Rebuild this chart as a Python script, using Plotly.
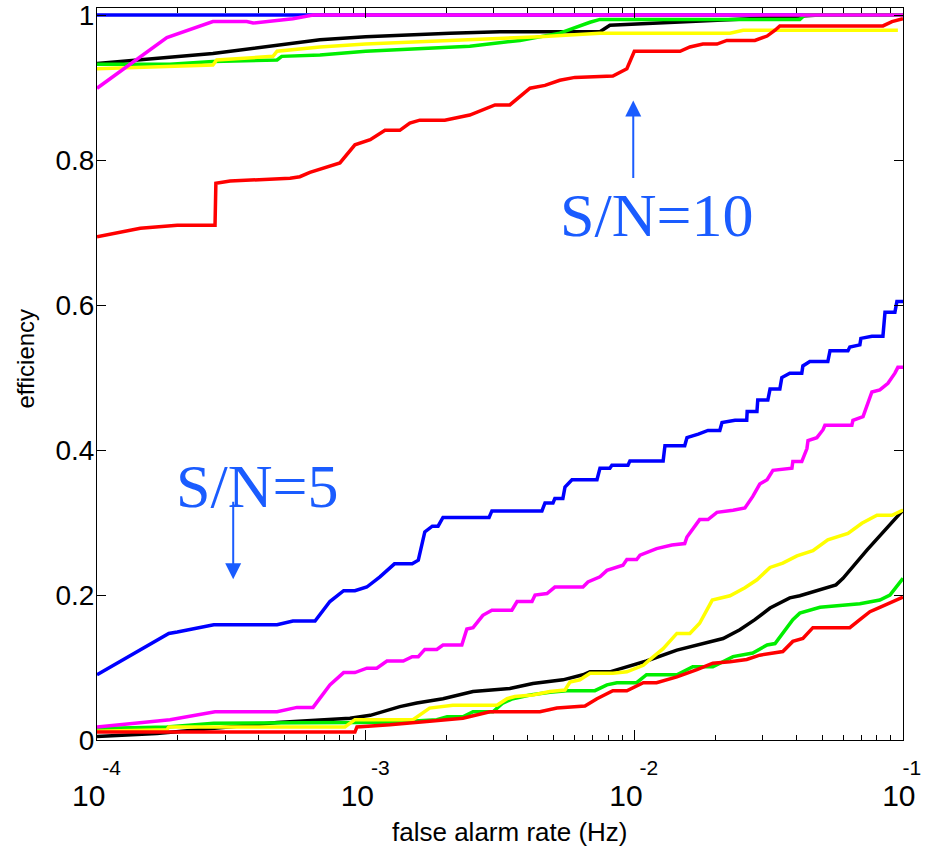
import plotly.graph_objects as go

# ---------------- data (false alarm rate in Hz, efficiency) ----------------
# S/N = 10 curves
blue10_f = [1.0e-4, 1.0e-1]
blue10_e = [1.0, 1.0]

black10_f = [1.0e-4, 2.70e-4, 6.76e-4, 1.00e-3, 2.06e-3, 3.16e-3, 7.45e-3, 8.11e-3, 2.69e-2, 4.91e-2, 1.0e-1]
black10_e = [0.933, 0.947, 0.966, 0.970, 0.975, 0.977, 0.977, 0.986, 0.995, 1.0, 1.0]

green10_f = [1.0e-4, 1.87e-4, 2.70e-4, 4.68e-4, 4.87e-4, 6.76e-4, 1.00e-3, 1.73e-3, 2.44e-3, 3.75e-3,
             5.28e-3, 6.84e-3, 7.45e-3, 4.13e-2, 4.31e-2, 1.0e-1]
green10_e = [0.932, 0.932, 0.936, 0.938, 0.943, 0.945, 0.950, 0.955, 0.957, 0.965,
             0.975, 0.990, 0.994, 0.994, 1.0, 1.0]

yellow10_f = [1.0e-4, 2.70e-4, 2.79e-4, 4.52e-4, 4.68e-4, 6.76e-4, 1.00e-3, 2.06e-3, 4.45e-3, 7.45e-3,
              2.27e-2, 2.54e-2, 9.57e-2]
yellow10_e = [0.926, 0.931, 0.938, 0.943, 0.950, 0.956, 0.960, 0.965, 0.970, 0.975,
              0.975, 0.979, 0.979]

red10_f = [1.0e-4, 1.45e-4, 1.99e-4, 2.75e-4, 2.77e-4, 3.13e-4, 5.23e-4, 5.69e-4, 6.20e-4, 8.02e-4,
           9.12e-4, 1.04e-3, 1.18e-3, 1.34e-3, 1.46e-3, 1.59e-3, 1.97e-3, 2.44e-3, 3.03e-3, 3.44e-3,
           4.09e-3, 4.65e-3, 5.28e-3, 6.01e-3, 8.32e-3, 9.38e-3, 1.00e-2, 1.48e-2, 1.61e-2, 1.80e-2,
           2.03e-2, 2.21e-2, 2.81e-2, 3.12e-2, 3.34e-2, 3.48e-2, 8.42e-2, 9.10e-2, 1.0e-1]
red10_e = [0.694, 0.706, 0.710, 0.710, 0.768, 0.771, 0.775, 0.777, 0.783, 0.796,
           0.821, 0.828, 0.841, 0.841, 0.851, 0.855, 0.855, 0.862, 0.876, 0.876,
           0.899, 0.903, 0.910, 0.914, 0.916, 0.926, 0.950, 0.950, 0.956, 0.960,
           0.960, 0.965, 0.965, 0.971, 0.979, 0.985, 0.985, 0.991, 0.995]

magenta10_f = [1.0e-4, 1.82e-4, 2.70e-4, 3.61e-4, 3.81e-4, 5.36e-4, 6.37e-4, 1.0e-1]
magenta10_e = [0.899, 0.969, 0.991, 0.991, 0.989, 0.995, 1.0, 1.0]

# S/N = 5 curves
blue5_f = [1.00e-4, 1.85e-4, 1.99e-4, 2.72e-4, 4.68e-4, 5.36e-4, 6.48e-4, 7.36e-4, 8.28e-4, 9.12e-4,
           1.01e-3, 1.13e-3, 1.28e-3, 1.49e-3, 1.57e-3, 1.66e-3, 1.77e-3, 1.86e-3, 1.94e-3, 2.88e-3,
           2.95e-3, 4.53e-3, 4.65e-3, 4.98e-3, 5.06e-3, 5.42e-3, 5.52e-3, 5.86e-3, 7.26e-3, 7.45e-3,
           8.11e-3, 8.25e-3, 9.47e-3, 9.63e-3, 1.28e-2, 1.30e-2, 1.54e-2, 1.57e-2, 1.73e-2, 1.88e-2,
           2.08e-2, 2.12e-2, 2.37e-2, 2.62e-2, 2.63e-2, 2.86e-2, 2.88e-2, 3.14e-2, 3.20e-2, 3.48e-2,
           3.54e-2, 3.79e-2, 4.20e-2, 4.24e-2, 4.50e-2, 5.25e-2, 5.35e-2, 6.24e-2, 6.34e-2, 6.91e-2,
           6.97e-2, 7.66e-2, 8.42e-2, 8.57e-2, 9.33e-2, 9.49e-2, 1.00e-1]
blue5_e = [0.090, 0.147, 0.149, 0.159, 0.159, 0.164, 0.164, 0.191, 0.206, 0.206,
           0.211, 0.225, 0.243, 0.243, 0.248, 0.287, 0.295, 0.295, 0.307, 0.307,
           0.316, 0.316, 0.327, 0.327, 0.333, 0.333, 0.349, 0.359, 0.359, 0.375,
           0.375, 0.379, 0.379, 0.385, 0.385, 0.406, 0.406, 0.417, 0.422, 0.427,
           0.427, 0.438, 0.441, 0.441, 0.453, 0.453, 0.469, 0.469, 0.484, 0.484,
           0.500, 0.506, 0.506, 0.516, 0.522, 0.522, 0.537, 0.537, 0.542, 0.545,
           0.554, 0.557, 0.557, 0.590, 0.590, 0.605, 0.605]

magenta5_f = [1.00e-4, 1.87e-4, 2.75e-4, 4.68e-4, 5.55e-4, 6.37e-4, 7.36e-4, 8.28e-4, 9.12e-4, 1.01e-3,
              1.10e-3, 1.20e-3, 1.38e-3, 1.49e-3, 1.57e-3, 1.66e-3, 1.84e-3, 1.94e-3, 2.28e-3, 2.38e-3,
              2.51e-3, 2.73e-3, 2.95e-3, 3.50e-3, 3.66e-3, 4.16e-3, 4.27e-3, 4.73e-3, 5.06e-3, 6.44e-3,
              6.72e-3, 7.45e-3, 7.91e-3, 8.47e-3, 9.07e-3, 9.38e-3, 1.02e-2, 1.05e-2, 1.21e-2, 1.38e-2,
              1.54e-2, 1.57e-2, 1.71e-2, 1.75e-2, 1.88e-2, 2.03e-2, 2.33e-2, 2.58e-2, 2.76e-2, 2.93e-2,
              3.12e-2, 3.28e-2, 3.86e-2, 3.89e-2, 4.20e-2, 4.39e-2, 4.43e-2, 4.78e-2, 5.04e-2, 5.12e-2,
              6.45e-2, 6.51e-2, 7.10e-2, 7.34e-2, 7.66e-2, 8.20e-2, 8.79e-2, 9.33e-2, 9.57e-2, 1.00e-1]
magenta5_e = [0.018, 0.028, 0.039, 0.039, 0.045, 0.045, 0.076, 0.093, 0.093, 0.099,
              0.099, 0.109, 0.109, 0.115, 0.115, 0.125, 0.125, 0.131, 0.131, 0.153,
              0.155, 0.172, 0.179, 0.179, 0.191, 0.191, 0.200, 0.202, 0.211, 0.211,
              0.218, 0.225, 0.234, 0.237, 0.241, 0.249, 0.249, 0.255, 0.264, 0.269,
              0.271, 0.280, 0.299, 0.304, 0.304, 0.314, 0.317, 0.320, 0.336, 0.353,
              0.359, 0.372, 0.375, 0.384, 0.384, 0.402, 0.413, 0.417, 0.428, 0.434,
              0.434, 0.441, 0.446, 0.460, 0.480, 0.483, 0.492, 0.506, 0.514, 0.514]

black5_f = [1.00e-4, 1.67e-4, 4.68e-4, 8.74e-4, 1.04e-3, 1.34e-3, 1.55e-3, 1.94e-3, 2.51e-3, 3.44e-3,
            4.19e-3, 5.42e-3, 6.44e-3, 6.84e-3, 8.11e-3, 1.11e-2, 1.44e-2, 1.75e-2, 2.14e-2, 2.47e-2,
            2.81e-2, 3.20e-2, 3.79e-2, 4.13e-2, 5.63e-2, 5.98e-2, 7.34e-2, 1.00e-1]
black5_e = [0.005, 0.009, 0.024, 0.030, 0.034, 0.046, 0.051, 0.057, 0.067, 0.071,
            0.078, 0.083, 0.090, 0.094, 0.094, 0.109, 0.124, 0.132, 0.140, 0.152,
            0.166, 0.182, 0.196, 0.199, 0.214, 0.223, 0.262, 0.317]

green5_f = [1.00e-4, 1.82e-4, 2.72e-4, 8.37e-4, 9.28e-4, 1.31e-3, 1.84e-3, 2.01e-3, 2.30e-3, 2.51e-3,
            2.98e-3, 3.24e-3, 3.53e-3, 4.09e-3, 4.85e-3, 5.61e-3, 7.13e-3, 7.91e-3, 8.61e-3, 1.02e-2,
            1.11e-2, 1.44e-2, 1.65e-2, 1.96e-2, 2.33e-2, 2.76e-2, 3.12e-2, 3.34e-2, 3.70e-2, 3.89e-2,
            4.13e-2, 4.91e-2, 6.91e-2, 8.20e-2, 8.94e-2, 1.00e-1]
green5_e = [0.016, 0.018, 0.023, 0.023, 0.024, 0.025, 0.028, 0.032, 0.032, 0.039,
            0.039, 0.051, 0.057, 0.062, 0.066, 0.068, 0.068, 0.076, 0.079, 0.079,
            0.090, 0.090, 0.101, 0.101, 0.115, 0.120, 0.131, 0.133, 0.156, 0.166,
            0.175, 0.183, 0.188, 0.193, 0.200, 0.223]

yellow5_f = [1.00e-4, 1.82e-4, 1.85e-4, 8.37e-4, 9.12e-4, 1.50e-3, 1.73e-3, 2.11e-3, 3.08e-3, 3.36e-3,
             3.59e-3, 4.19e-3, 4.85e-3, 5.52e-3, 5.76e-3, 6.27e-3, 6.84e-3, 8.32e-3, 9.38e-3, 1.08e-2,
             1.16e-2, 1.28e-2, 1.44e-2, 1.61e-2, 1.75e-2, 1.95e-2, 2.27e-2, 2.58e-2, 2.86e-2, 3.20e-2,
             3.57e-2, 4.03e-2, 4.62e-2, 5.25e-2, 6.24e-2, 7.03e-2, 8.00e-2, 9.10e-2, 1.00e-1]
yellow5_e = [0.012, 0.014, 0.018, 0.018, 0.028, 0.028, 0.044, 0.048, 0.048, 0.057,
             0.060, 0.062, 0.067, 0.069, 0.080, 0.083, 0.092, 0.092, 0.094, 0.103,
             0.113, 0.126, 0.147, 0.147, 0.161, 0.193, 0.199, 0.210, 0.221, 0.238,
             0.244, 0.254, 0.261, 0.276, 0.285, 0.299, 0.310, 0.310, 0.317]

red5_f = [1.00e-4, 9.12e-4, 9.28e-4, 1.23e-3, 1.73e-3, 2.30e-3, 2.90e-3, 4.45e-3, 5.15e-3, 6.55e-3,
          7.26e-3, 8.32e-3, 9.38e-3, 1.08e-2, 1.21e-2, 1.44e-2, 1.71e-2, 1.96e-2, 2.27e-2, 2.62e-2,
          2.93e-2, 3.57e-2, 3.89e-2, 4.24e-2, 4.62e-2, 6.34e-2, 6.91e-2, 7.53e-2, 8.20e-2, 1.00e-1]
red5_e = [0.011, 0.011, 0.018, 0.021, 0.026, 0.030, 0.039, 0.039, 0.044, 0.047,
          0.057, 0.068, 0.068, 0.079, 0.079, 0.087, 0.097, 0.106, 0.108, 0.111,
          0.117, 0.122, 0.136, 0.140, 0.155, 0.155, 0.166, 0.177, 0.183, 0.197]

x_tick_vals = [1e-4, 1e-3, 1e-2, 1e-1]
x_tick_exp = ["-4", "-3", "-2", "-1"]
y_tick_vals = [0, 0.2, 0.4, 0.6, 0.8, 1.0]
y_tick_text = ["0", "0.2", "0.4", "0.6", "0.8", "1"]

# MATLAB-style power labels: exponent raised above and to the right of "10"
NB = "&nbsp;"
lead = [5, 5, 5, 3]
trail = [2, 2, 2, 1]
x_tick_text = [
    f"<span style='font-size:21px'>{NB * lead[i]}{e}</span>"
    f"<br><span style='font-size:30px'>10{NB * trail[i]}</span>"
    for i, e in enumerate(x_tick_exp)
]

# ---------------- figure ----------------
BLUE, MAG, BLK, GRN, YEL, RED = "#0000ff", "#ff00ff", "#000000", "#00ee00", "#ffff00", "#ff0000"
series = [
    (blue5_f, blue5_e, BLUE), (blue10_f, blue10_e, BLUE),
    (black5_f, black5_e, BLK), (black10_f, black10_e, BLK),
    (green5_f, green5_e, GRN), (green10_f, green10_e, GRN),
    (yellow5_f, yellow5_e, YEL), (yellow10_f, yellow10_e, YEL),
    (red5_f, red5_e, RED), (red10_f, red10_e, RED),
    (magenta5_f, magenta5_e, MAG), (magenta10_f, magenta10_e, MAG),
]

fig = go.Figure()
for fx, ey, col in series:
    fig.add_trace(go.Scatter(x=fx, y=ey, mode="lines",
                             line=dict(color=col, width=3.5),
                             showlegend=False, hoverinfo="skip"))

minor_vals = [k * 10.0 ** e for e in (-4, -3, -2) for k in range(2, 10)]

fig.update_layout(
    width=926, height=850,
    margin=dict(l=97, r=23, t=8, b=110, autoexpand=False),
    plot_bgcolor="white", paper_bgcolor="white",
    showlegend=False,
    font=dict(family="Liberation Sans, Arial, sans-serif", color="black"),
    xaxis=dict(
        type="log", range=[-4, -1], automargin=False,
        tickmode="array", tickvals=x_tick_vals, ticktext=x_tick_text,
        ticks="inside", ticklen=10, tickwidth=1, tickcolor="black",
        showline=True, linecolor="black", linewidth=1, mirror="ticks",
        showgrid=False, zeroline=False,
        tickfont=dict(size=24, family="Liberation Sans", color="black"),
        ticklabelstandoff=5, ticklabeloverflow="allow",
        minor=dict(tickmode="array", tickvals=minor_vals, ticks="inside",
                   ticklen=5, tickwidth=1, tickcolor="black", showgrid=False),
    ),
    yaxis=dict(
        range=[0, 1.0097], automargin=False,
        tickmode="array", tickvals=y_tick_vals, ticktext=y_tick_text,
        ticks="inside", ticklen=9, tickwidth=1, tickcolor="black",
        showline=True, linecolor="black", linewidth=1, mirror="ticks",
        showgrid=False, zeroline=False,
        tickfont=dict(size=28, family="Liberation Sans", color="black"),
        ticklabelstandoff=-4, ticklabeloverflow="allow",
    ),
)

ANN = "#1a5cff"
fig.add_annotation(text="false alarm rate (Hz)", xref="paper", yref="paper",
                   x=0.5124, y=-0.1257, xanchor="center", yanchor="middle",
                   showarrow=False, font=dict(size=26, family="Liberation Sans", color="black"))
fig.add_annotation(text="efficiency", xref="paper", yref="paper",
                   x=-0.0893, y=0.5212, xanchor="center", yanchor="middle", textangle=-90,
                   showarrow=False, font=dict(size=24, family="Liberation Sans", color="black"))

# S/N labels (x in log10 units for log axis)
fig.add_annotation(text="S/N=10", xref="x", yref="y", x=-1.917, y=0.7246,
                   xanchor="center", yanchor="middle", showarrow=False,
                   font=dict(size=62, family="Liberation Serif", color=ANN))
fig.add_annotation(text="S/N=5", xref="x", yref="y", x=-3.406, y=0.3497,
                   xanchor="center", yanchor="middle", showarrow=False,
                   font=dict(size=62, family="Liberation Serif", color=ANN))
# arrows
fig.add_annotation(text="", xref="x", yref="y", x=-2.004, y=0.882, ax=0, ay=79,
                   showarrow=True, arrowhead=2, arrowsize=1.6, arrowwidth=2, arrowcolor=ANN)
fig.add_annotation(text="", xref="x", yref="y", x=-3.493, y=0.2217, ax=0, ay=-79,
                   showarrow=True, arrowhead=2, arrowsize=1.6, arrowwidth=2, arrowcolor=ANN)

fig.write_html("out.html")
